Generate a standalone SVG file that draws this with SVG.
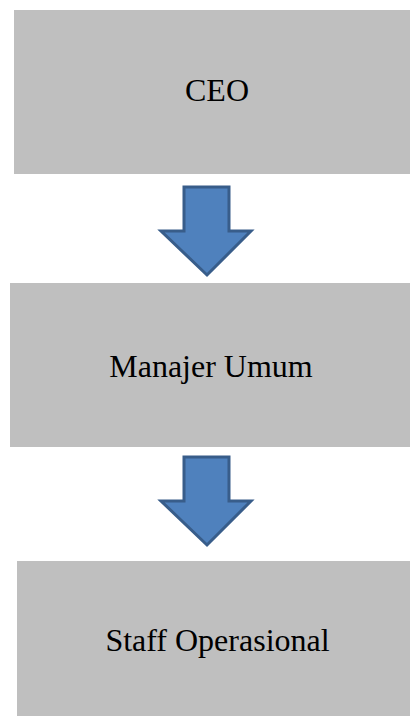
<svg xmlns="http://www.w3.org/2000/svg" width="410" height="716" viewBox="0 0 410 716">
<style>
.box{fill:#BFBFBF}
.lbl{font-family:"Liberation Serif","Times New Roman",serif;font-size:32px;fill:#000;text-anchor:middle}
.arr{fill:#4F81BD;stroke:#385D8A;stroke-width:3;stroke-linejoin:miter}
</style>
<rect width="410" height="716" fill="#fff"/>
<g id="ceo"><rect class="box" x="14" y="10" width="396" height="164"/><text class="lbl" x="217" y="101">CEO</text></g>
<g id="manajer-umum"><rect class="box" x="10" y="283" width="400" height="164"/><text class="lbl" x="211" y="377">Manajer Umum</text></g>
<g id="staff-operasional"><rect class="box" x="17" y="561" width="393" height="155"/><text class="lbl" x="217.5" y="651">Staff Operasional</text></g>
<g id="connectors">
<path class="arr" d="M184,187 H229 V231 H251 L207,275 L161,231 H184 Z"/>
<path class="arr" d="M184,457 H229 V501 H251 L207,545 L161,501 H184 Z"/>
</g>
</svg>
